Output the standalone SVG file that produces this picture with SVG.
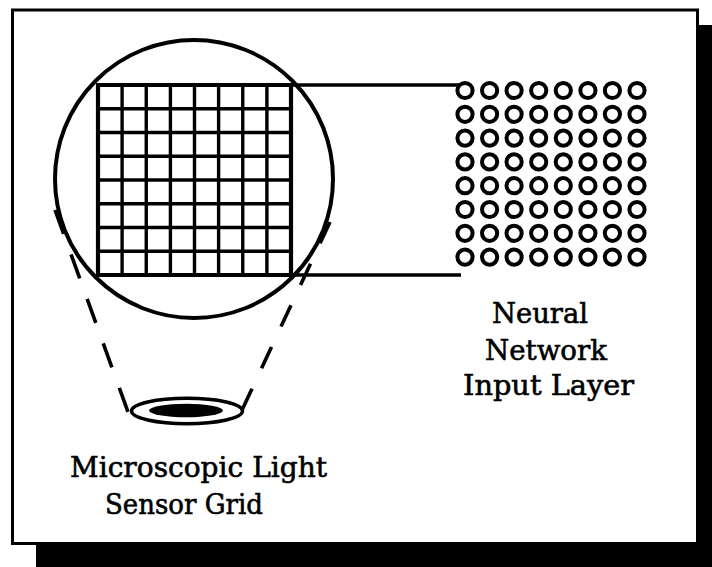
<svg xmlns="http://www.w3.org/2000/svg" width="712" height="567" viewBox="0 0 712 567">
<style>
.ink{fill:none;stroke:#000;}
.cell{fill:none;stroke:#000;stroke-width:3.4;}
.node{fill:none;stroke:#000;stroke-width:4;}
.lbl{font-family:"DejaVu Serif","Liberation Serif",serif;font-size:28px;fill:#000;stroke:#000;stroke-width:0.6;}
.dash{fill:none;stroke:#000;stroke-width:3.6;stroke-linecap:butt;}
</style>
<g id="frame">
<rect x="36" y="25" width="676" height="542" fill="#000"/>
<rect x="12.5" y="10" width="685" height="533.5" fill="#fff" stroke="#000" stroke-width="3"/>
</g>
<g id="connectors">
<line class="ink" x1="291" y1="85" x2="461" y2="85" stroke-width="3.4"/>
<line class="ink" x1="291" y1="275" x2="461" y2="275" stroke-width="3.4"/>
<line class="dash" x1="55" y1="210" x2="128" y2="412" stroke-dasharray="25.5 21.8"/>
<line class="dash" x1="330" y1="222" x2="242" y2="410" stroke-dasharray="23.5 22.5"/>
</g>
<g id="sensor-grid">
<circle class="ink" cx="194" cy="179" r="139" stroke-width="4"/>
<g class="cell">
<line x1="98" y1="85" x2="98" y2="275" stroke-width="4.2"/>
<line x1="122.1" y1="85" x2="122.1" y2="275"/>
<line x1="146.25" y1="85" x2="146.25" y2="275"/>
<line x1="170.4" y1="85" x2="170.4" y2="275"/>
<line x1="194.5" y1="85" x2="194.5" y2="275"/>
<line x1="218.6" y1="85" x2="218.6" y2="275"/>
<line x1="242.75" y1="85" x2="242.75" y2="275"/>
<line x1="266.9" y1="85" x2="266.9" y2="275"/>
<line x1="291" y1="85" x2="291" y2="275" stroke-width="4.2"/>
<line x1="96" y1="85" x2="293" y2="85" stroke-width="4.2"/>
<line x1="98" y1="108.75" x2="291" y2="108.75"/>
<line x1="98" y1="132.5" x2="291" y2="132.5"/>
<line x1="98" y1="156.25" x2="291" y2="156.25"/>
<line x1="98" y1="180" x2="291" y2="180"/>
<line x1="98" y1="203.75" x2="291" y2="203.75"/>
<line x1="98" y1="227.5" x2="291" y2="227.5"/>
<line x1="98" y1="251.25" x2="291" y2="251.25"/>
<line x1="96" y1="275" x2="293" y2="275" stroke-width="4.2"/>
</g>
</g>
<g id="light-sensor">
<ellipse class="ink" cx="187" cy="411" rx="55.5" ry="12.7" stroke-width="3.4"/>
<ellipse cx="186" cy="410.5" rx="37" ry="6.8" fill="#000"/>
</g>
<g id="input-layer">
<defs><circle id="n" r="7.6" class="node"/></defs>
<g>
<use href="#n" x="465" y="90.5"/><use href="#n" x="489.6" y="90.5"/><use href="#n" x="514.1" y="90.5"/><use href="#n" x="538.7" y="90.5"/><use href="#n" x="563.3" y="90.5"/><use href="#n" x="587.9" y="90.5"/><use href="#n" x="612.4" y="90.5"/><use href="#n" x="637" y="90.5"/>
<use href="#n" x="465" y="114.3"/><use href="#n" x="489.6" y="114.3"/><use href="#n" x="514.1" y="114.3"/><use href="#n" x="538.7" y="114.3"/><use href="#n" x="563.3" y="114.3"/><use href="#n" x="587.9" y="114.3"/><use href="#n" x="612.4" y="114.3"/><use href="#n" x="637" y="114.3"/>
<use href="#n" x="465" y="138.1"/><use href="#n" x="489.6" y="138.1"/><use href="#n" x="514.1" y="138.1"/><use href="#n" x="538.7" y="138.1"/><use href="#n" x="563.3" y="138.1"/><use href="#n" x="587.9" y="138.1"/><use href="#n" x="612.4" y="138.1"/><use href="#n" x="637" y="138.1"/>
<use href="#n" x="465" y="161.9"/><use href="#n" x="489.6" y="161.9"/><use href="#n" x="514.1" y="161.9"/><use href="#n" x="538.7" y="161.9"/><use href="#n" x="563.3" y="161.9"/><use href="#n" x="587.9" y="161.9"/><use href="#n" x="612.4" y="161.9"/><use href="#n" x="637" y="161.9"/>
<use href="#n" x="465" y="185.7"/><use href="#n" x="489.6" y="185.7"/><use href="#n" x="514.1" y="185.7"/><use href="#n" x="538.7" y="185.7"/><use href="#n" x="563.3" y="185.7"/><use href="#n" x="587.9" y="185.7"/><use href="#n" x="612.4" y="185.7"/><use href="#n" x="637" y="185.7"/>
<use href="#n" x="465" y="209.5"/><use href="#n" x="489.6" y="209.5"/><use href="#n" x="514.1" y="209.5"/><use href="#n" x="538.7" y="209.5"/><use href="#n" x="563.3" y="209.5"/><use href="#n" x="587.9" y="209.5"/><use href="#n" x="612.4" y="209.5"/><use href="#n" x="637" y="209.5"/>
<use href="#n" x="465" y="233.3"/><use href="#n" x="489.6" y="233.3"/><use href="#n" x="514.1" y="233.3"/><use href="#n" x="538.7" y="233.3"/><use href="#n" x="563.3" y="233.3"/><use href="#n" x="587.9" y="233.3"/><use href="#n" x="612.4" y="233.3"/><use href="#n" x="637" y="233.3"/>
<use href="#n" x="465" y="257.1"/><use href="#n" x="489.6" y="257.1"/><use href="#n" x="514.1" y="257.1"/><use href="#n" x="538.7" y="257.1"/><use href="#n" x="563.3" y="257.1"/><use href="#n" x="587.9" y="257.1"/><use href="#n" x="612.4" y="257.1"/><use href="#n" x="637" y="257.1"/>
</g>
</g>
<g id="input-layer-label">
<text class="lbl" x="492" y="323" textLength="96" lengthAdjust="spacingAndGlyphs">Neural</text>
<text class="lbl" x="485" y="360" textLength="122" lengthAdjust="spacingAndGlyphs">Network</text>
<text class="lbl" x="463" y="395" textLength="171" lengthAdjust="spacingAndGlyphs">Input Layer</text>
</g>
<g id="sensor-label">
<text class="lbl" x="70" y="477" textLength="257" lengthAdjust="spacingAndGlyphs">Microscopic Light</text>
<text class="lbl" x="105" y="514" textLength="158" lengthAdjust="spacingAndGlyphs">Sensor Grid</text>
</g>
</svg>
